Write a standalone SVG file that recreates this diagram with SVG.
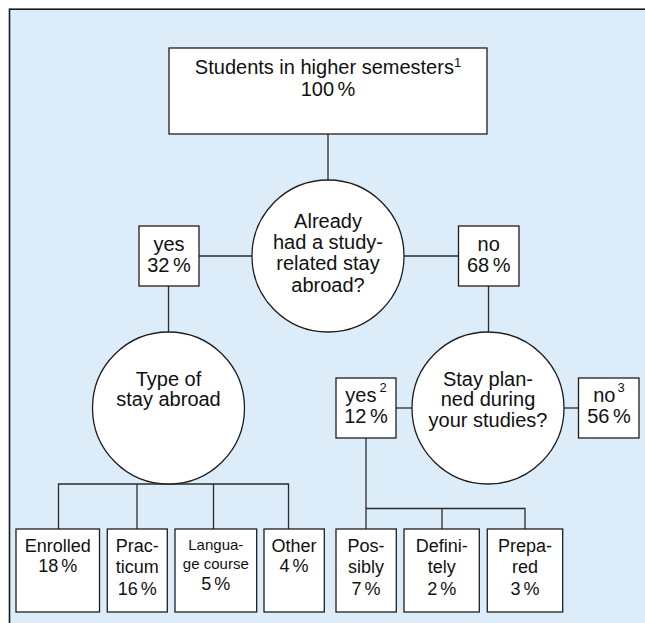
<svg xmlns="http://www.w3.org/2000/svg" width="645" height="623" viewBox="0 0 645 623">
<style>
.box{fill:#fff;stroke:#1e1e1e;stroke-width:1.3}
.circ{fill:#fff;stroke:#1e1e1e;stroke-width:1.3}
.con{fill:none;stroke:#2a2a2a;stroke-width:1.3}
text{font-family:"Liberation Sans",Arial,sans-serif;fill:#111;text-anchor:middle}
.t20{font-size:20px}
.t18{font-size:18px}
.t15{font-size:15px}
.sup{font-size:13px}
.pct{word-spacing:-2px}
</style>
<rect x="0" y="0" width="645" height="623" fill="#fff"/>
<rect x="9.5" y="9.2" width="700" height="700" fill="#dcedf9" stroke="#1a1a1a" stroke-width="1.6"/>
<g id="connectors">
<line class="con" x1="328" y1="134" x2="328" y2="180"/>
<line class="con" x1="199" y1="256" x2="252" y2="256"/>
<line class="con" x1="404" y1="256" x2="458.5" y2="256"/>
<line class="con" x1="168.5" y1="286" x2="168.5" y2="332"/>
<line class="con" x1="488.5" y1="286" x2="488.5" y2="332"/>
<line class="con" x1="396" y1="408" x2="412" y2="408"/>
<line class="con" x1="564" y1="408" x2="578.5" y2="408"/>
<polyline class="con" points="58.5,529 58.5,484 288.5,484 288.5,529"/>
<line class="con" x1="137" y1="484" x2="137" y2="529"/>
<line class="con" x1="213.5" y1="484" x2="213.5" y2="529"/>
<line class="con" x1="366" y1="438" x2="366" y2="529"/>
<polyline class="con" points="366,508.5 525,508.5 525,529"/>
<line class="con" x1="442" y1="508.5" x2="442" y2="529"/>
</g>
<g id="root">
<rect class="box" x="169" y="48" width="318" height="86"/>
<text class="t20" x="328" y="74">Students in higher semesters<tspan class="sup" dy="-7">1</tspan></text>
<text class="t20 pct" x="328" y="96">100 %</text>
</g>
<g id="q1">
<circle class="circ" cx="328" cy="256" r="76"/>
<text class="t20" x="328" y="228">Already</text>
<text class="t20" x="328" y="249">had a study-</text>
<text class="t20" x="328" y="270">related stay</text>
<text class="t20" x="328" y="291.5">abroad?</text>
</g>
<g id="yes1">
<rect class="box" x="139" y="226" width="60" height="60"/>
<text class="t20" x="169" y="250.5">yes</text>
<text class="t20 pct" x="169" y="272">32 %</text>
</g>
<g id="no1">
<rect class="box" x="458.5" y="226" width="60.5" height="60"/>
<text class="t20" x="488.7" y="250.5">no</text>
<text class="t20 pct" x="488.7" y="272">68 %</text>
</g>
<g id="type">
<circle class="circ" cx="168.5" cy="408" r="76"/>
<text class="t20" x="168.5" y="386">Type of</text>
<text class="t20" x="168.5" y="406">stay abroad</text>
</g>
<g id="planned">
<circle class="circ" cx="488" cy="408" r="76"/>
<text class="t20" x="488" y="386">Stay plan-</text>
<text class="t20" x="488" y="406">ned during</text>
<text class="t20" x="488" y="426.5">your studies?</text>
</g>
<g id="yes2">
<rect class="box" x="336" y="378" width="60" height="60"/>
<text class="t20" x="366" y="401.5">yes<tspan class="sup" dx="3" dy="-10">2</tspan></text>
<text class="t20 pct" x="366" y="423">12 %</text>
</g>
<g id="no3">
<rect class="box" x="578.5" y="378" width="60.5" height="60"/>
<text class="t20" x="609" y="401.5">no<tspan class="sup" dx="2" dy="-10">3</tspan></text>
<text class="t20 pct" x="609" y="423">56 %</text>
</g>
<g id="enrolled">
<rect class="box" x="16" y="529" width="83.5" height="83"/>
<text class="t18" x="57.7" y="551.7">Enrolled</text>
<text class="t18 pct" x="57.7" y="571.7">18 %</text>
</g>
<g id="practicum">
<rect class="box" x="107.3" y="529" width="60" height="83"/>
<text class="t18" x="137.3" y="551.7">Prac-</text>
<text class="t18" x="137.3" y="573.3">ticum</text>
<text class="t18 pct" x="137.3" y="595">16 %</text>
</g>
<g id="language">
<rect class="box" x="175" y="529" width="81.7" height="83"/>
<text class="t15" x="215.8" y="550">Langua-</text>
<text class="t15" x="215.8" y="569.3">ge course</text>
<text class="t18 pct" x="215.8" y="590">5 %</text>
</g>
<g id="other">
<rect class="box" x="264" y="529" width="60.3" height="83"/>
<text class="t18" x="294" y="551.7">Other</text>
<text class="t18 pct" x="294" y="571.7">4 %</text>
</g>
<g id="possibly">
<rect class="box" x="336" y="529" width="60.3" height="83"/>
<text class="t18" x="366" y="551.7">Pos-</text>
<text class="t18" x="366" y="573.3">sibly</text>
<text class="t18 pct" x="366" y="595">7 %</text>
</g>
<g id="definitely">
<rect class="box" x="404" y="529" width="75.3" height="83"/>
<text class="t18" x="441.7" y="551.7">Defini-</text>
<text class="t18" x="441.7" y="573.3">tely</text>
<text class="t18 pct" x="441.7" y="595">2 %</text>
</g>
<g id="prepared">
<rect class="box" x="487.3" y="529" width="75.4" height="83"/>
<text class="t18" x="525" y="551.7">Prepa-</text>
<text class="t18" x="525" y="573.3">red</text>
<text class="t18 pct" x="525" y="595">3 %</text>
</g>
</svg>
